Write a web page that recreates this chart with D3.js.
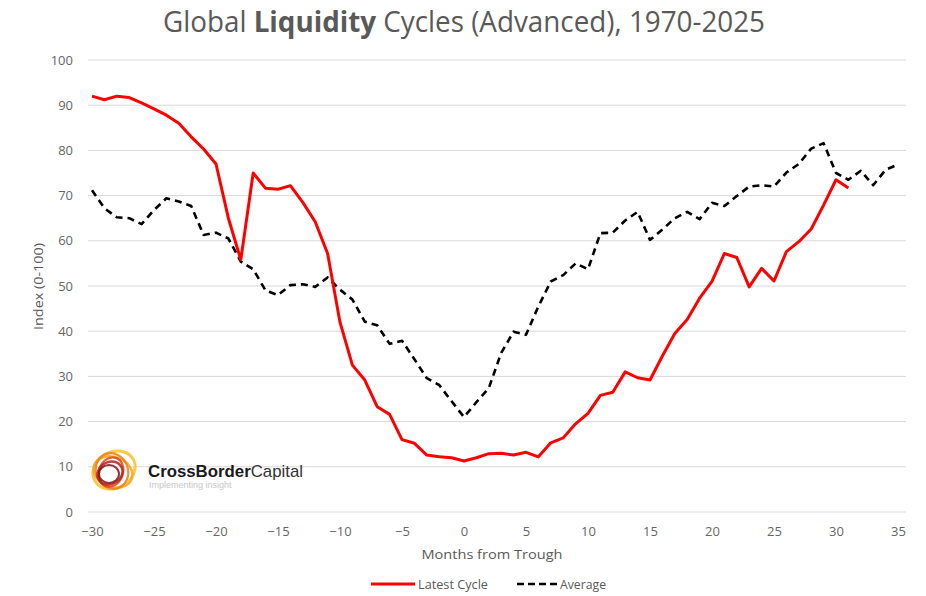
<!DOCTYPE html>
<html>
<head>
<meta charset="utf-8">
<script src="https://cdn.jsdelivr.net/npm/d3@7"></script>
<style>
  body { margin: 0; background: #fff; }
  svg { font-family: "Open Sans", sans-serif; }
</style>
</head>
<body>
<svg id="chart" width="926" height="596"></svg>
<script>
// months from trough
var months = d3.range(-30, 36);

// Latest Cycle, -30 .. 31
var latest = [92, 91.2, 92, 91.7, 90.5, 89.2, 87.8, 86, 83, 80.3,
    77, 65, 55.8, 75, 71.6, 71.4, 72.2, 68.5, 64.2, 57.2,
    42, 32.5, 29.2, 23.3, 21.6, 16, 15.2, 12.6, 12.2, 12,
    11.3, 12, 12.9, 13, 12.6, 13.2, 12.2, 15.3, 16.4, 19.5,
    21.8, 25.8, 26.5, 31, 29.7, 29.2, 34.5, 39.5, 42.6, 47.3,
    51, 57.2, 56.3, 49.8, 53.9, 51.1, 57.6, 59.8, 62.6, 67.9,
    73.5, 71.7];

// Average, -30 .. 35
var average = [71.2, 67.2, 65.2, 65, 63.7, 66.8, 69.4, 68.7, 67.7, 61.3,
    61.8, 60.5, 55.4, 53.7, 49, 48, 50.2, 50.4, 49.8, 51.9,
    49.2, 47, 42.1, 41.3, 37.2, 37.9, 33.8, 29.6, 28.1, 24.5,
    21, 24.3, 27.4, 35.2, 39.9, 39.2, 45.5, 51, 52.4, 55,
    53.7, 61.7, 61.8, 64.5, 66.4, 60.2, 62.5, 65, 66.4, 64.8,
    68.4, 67.7, 69.9, 72, 72.3, 72, 75.1, 77, 80.4, 81.6,
    75, 73.5, 75.5, 72.3, 75.7, 76.9];

var xTicks = [-30, -25, -20, -15, -10, -5, 0, 5, 10, 15, 20, 25, 30, 35];
var yTicks = [0, 10, 20, 30, 40, 50, 60, 70, 80, 90, 100];

var svg = d3.select("#chart");
var grey = "#595959";

var x = d3.scaleLinear().domain([-30, 35]).range([92, 898]);
var y = d3.scaleLinear().domain([0, 100]).range([512, 60]);

// gridlines
svg.append("g")
    .selectAll("line")
    .data(yTicks)
    .enter().append("line")
    .attr("x1", 88)
    .attr("x2", 906)
    .attr("y1", function(d) { return y(d); })
    .attr("y2", function(d) { return y(d); })
    .attr("stroke", "#d9d9d9")
    .attr("stroke-width", 1);

// y axis labels
var yAxis = svg.append("g")
    .attr("transform", "translate(79,0)")
    .call(d3.axisLeft(y).tickValues(yTicks).tickSize(0).tickPadding(6));
yAxis.select(".domain").remove();
yAxis.selectAll("text")
    .attr("fill", "#666")
    .style("font-size", "13px")
    .style("font-family", "'Open Sans', sans-serif");

// x axis labels
var xAxis = svg.append("g")
    .attr("transform", "translate(0,521)")
    .call(d3.axisBottom(x).tickValues(xTicks).tickSize(0).tickPadding(6));
xAxis.select(".domain").remove();
xAxis.selectAll("text")
    .attr("fill", "#666")
    .style("font-size", "13px")
    .style("font-family", "'Open Sans', sans-serif");

// axis titles
svg.append("text")
    .attr("x", 492)
    .attr("y", 559)
    .attr("text-anchor", "middle")
    .attr("fill", grey)
    .attr("textLength", 141)
    .attr("lengthAdjust", "spacingAndGlyphs")
    .style("font-size", "13.5px")
    .text("Months from Trough");

svg.append("text")
    .attr("transform", "translate(43,286.5) rotate(-90)")
    .attr("text-anchor", "middle")
    .attr("fill", grey)
    .attr("textLength", 87)
    .attr("lengthAdjust", "spacingAndGlyphs")
    .style("font-size", "13.5px")
    .text("Index (0-100)");

// title
var title = svg.append("text")
    .attr("x", 464)
    .attr("y", 32)
    .attr("text-anchor", "middle")
    .attr("fill", grey)
    .attr("textLength", 602)
    .attr("lengthAdjust", "spacingAndGlyphs")
    .style("font-size", "29px");
title.append("tspan").text("Global ");
title.append("tspan").attr("font-weight", "bold").text("Liquidity");
title.append("tspan").text(" Cycles (Advanced), 1970-2025");

// logo
var logo = svg.append("g").attr("transform", "translate(113,471)");
var rings = [
    {c: "#f9c02e", rx: 22, ry: 18, r: -30, dx: 1, dy: -1, w: 3},
    {c: "#f4a622", rx: 20, ry: 15, r: 20, dx: 0, dy: 1, w: 2.5},
    {c: "#ec7f1c", rx: 18, ry: 16, r: 70, dx: -1, dy: 0, w: 2.2},
    {c: "#d9481c", rx: 15, ry: 12, r: 110, dx: -2, dy: 1, w: 2.2},
    {c: "#b5201d", rx: 13, ry: 11, r: 150, dx: -3, dy: 2, w: 2.5},
    {c: "#7d1218", rx: 10, ry: 9, r: 0, dx: -4, dy: 3, w: 2}
];
rings.forEach(function(d) {
    logo.append("ellipse")
        .attr("rx", d.rx)
        .attr("ry", d.ry)
        .attr("transform", "translate(" + d.dx + "," + d.dy + ") rotate(" + d.r + ")")
        .attr("fill", "none")
        .attr("stroke", d.c)
        .attr("stroke-width", d.w)
        .attr("opacity", 0.85);
});

var logoText = svg.append("text")
    .attr("x", 148)
    .attr("y", 477)
    .attr("fill", "#1a1a1a")
    .attr("textLength", 155)
    .attr("lengthAdjust", "spacingAndGlyphs")
    .style("font-family", "'Liberation Sans', Arial, sans-serif")
    .style("font-size", "17px");
logoText.append("tspan").attr("font-weight", "bold").text("CrossBorder");
logoText.append("tspan").attr("fill", "#333").text("Capital");

svg.append("text")
    .attr("x", 149)
    .attr("y", 488)
    .attr("fill", "#c8c8c8")
    .style("font-family", "'Liberation Sans', Arial, sans-serif")
    .style("font-size", "9px")
    .text("Implementing insight");

// lines
var line = d3.line()
    .x(function(d) { return x(d[0]); })
    .y(function(d) { return y(d[1]); });

svg.append("path")
    .datum(average.map(function(v, i) { return [months[i], v]; }))
    .attr("d", line)
    .attr("fill", "none")
    .attr("stroke", "#000")
    .attr("stroke-width", 2.6)
    .attr("stroke-dasharray", "7,5")
    .attr("stroke-linejoin", "round");

svg.append("path")
    .datum(latest.map(function(v, i) { return [months[i], v]; }))
    .attr("d", line)
    .attr("fill", "none")
    .attr("stroke", "#ff0000")
    .attr("stroke-width", 3)
    .attr("stroke-linejoin", "round");

// legend
var leg = svg.append("g");
leg.append("line")
    .attr("x1", 371).attr("x2", 415)
    .attr("y1", 584).attr("y2", 584)
    .attr("stroke", "#ff0000")
    .attr("stroke-width", 3);
leg.append("text")
    .attr("x", 418).attr("y", 589)
    .attr("fill", grey)
    .attr("textLength", 70)
    .attr("lengthAdjust", "spacingAndGlyphs")
    .style("font-size", "13.5px")
    .text("Latest Cycle");
leg.append("line")
    .attr("x1", 517).attr("x2", 558)
    .attr("y1", 584).attr("y2", 584)
    .attr("stroke", "#000")
    .attr("stroke-width", 2.6)
    .attr("stroke-dasharray", "7,4");
leg.append("text")
    .attr("x", 560).attr("y", 589)
    .attr("fill", grey)
    .attr("textLength", 46)
    .attr("lengthAdjust", "spacingAndGlyphs")
    .style("font-size", "13.5px")
    .text("Average");
</script>
</body>
</html>
